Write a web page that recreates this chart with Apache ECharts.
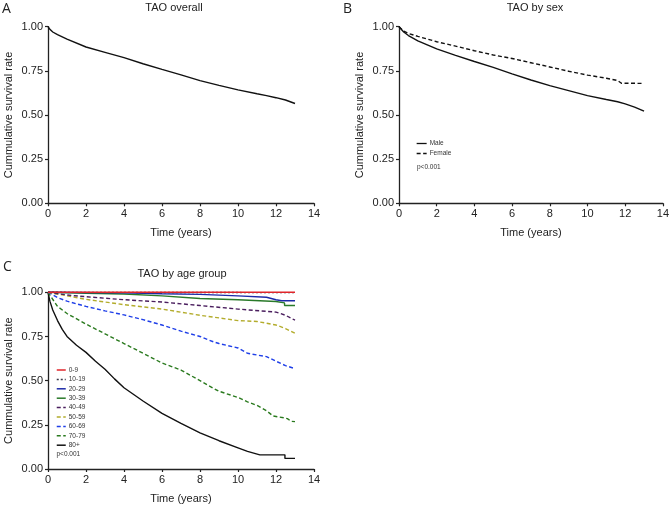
<!DOCTYPE html>
<html>
<head>
<meta charset="utf-8">
<script src="https://cdn.jsdelivr.net/npm/echarts@6/dist/echarts.min.js"></script>
<style>
html,body{margin:0;padding:0;background:#fff;}
#chart{width:672px;height:508px;}
</style>
</head>
<body>
<div id="chart"></div>
<script>
// ---- Data ----
const xTicks = [0, 2, 4, 6, 8, 10, 12, 14];
const yTicks = [0, 0.25, 0.5, 0.75, 1.0];

// Panel A: overall
const overallT = [0, 0.1, 0.25, 0.5, 1, 2, 3, 4, 5, 6, 7, 8, 9, 10, 11, 11.5, 12, 12.5, 13];
const overallS = [1.0, 0.985, 0.97, 0.955, 0.93, 0.885, 0.855, 0.825, 0.79, 0.758, 0.727, 0.695, 0.668, 0.642, 0.62, 0.61, 0.598, 0.585, 0.565];

// Panel B: by sex
const sexNames = ['Male', 'Female'];
const maleT = [0, 0.25, 0.5, 1, 1.5, 2, 3, 4, 5, 6, 7, 8, 9, 10, 11, 11.6, 12, 12.5, 13];
const maleS = [1.0, 0.97, 0.95, 0.92, 0.897, 0.874, 0.838, 0.803, 0.77, 0.733, 0.698, 0.666, 0.638, 0.61, 0.588, 0.575, 0.563, 0.545, 0.522];
const femaleT = [0, 0.25, 0.5, 1, 2, 3, 4, 5, 6, 7, 8, 9, 10, 11, 11.6, 11.8, 13];
const femaleS = [1.0, 0.975, 0.962, 0.945, 0.915, 0.89, 0.864, 0.84, 0.82, 0.796, 0.772, 0.748, 0.726, 0.708, 0.695, 0.68, 0.679];

// Panel C: by age group
const ageNames = ['0-9', '10-19', '20-29', '30-39', '40-49', '50-59', '60-69', '70-79', '80+'];
const ageT = [
  [0, 13],
  [0, 13],
  [0, 4, 6, 8, 10, 11.5, 12, 12.3, 13],
  [0, 2, 4, 6, 8, 10, 12, 12.45, 12.45, 13],
  [0, 1, 2, 4, 6, 8, 10, 12, 12.5, 13],
  [0, 1, 2, 4, 6, 8, 10, 11, 12, 12.5, 13],
  [0, 0.5, 1, 2, 3, 4, 5, 6, 7, 8, 8.7, 9, 10, 10.5, 11, 11.5, 12, 12.5, 13],
  [0, 0.5, 1, 2, 3, 4, 5, 6, 7, 8, 8.7, 9, 10, 10.5, 11, 11.5, 11.85, 12.4, 12.6, 12.8, 13],
  [0, 0.1, 0.25, 0.5, 0.75, 1, 1.5, 2, 2.5, 3, 3.5, 4, 5, 6, 7, 8, 9, 10, 10.5, 11.15, 12.47, 12.47, 13]
];
const ageS = [
  [1.0, 1.0],
  [1.0, 0.998],
  [1.0, 0.997, 0.992, 0.988, 0.98, 0.972, 0.958, 0.952, 0.952],
  [1.0, 0.995, 0.99, 0.98, 0.965, 0.958, 0.948, 0.94, 0.925, 0.925],
  [1.0, 0.985, 0.975, 0.958, 0.945, 0.925, 0.905, 0.888, 0.87, 0.842],
  [1.0, 0.98, 0.96, 0.93, 0.905, 0.87, 0.84, 0.835, 0.815, 0.795, 0.768],
  [1.0, 0.97, 0.95, 0.92, 0.895, 0.872, 0.845, 0.815, 0.78, 0.75, 0.72, 0.71, 0.685, 0.655, 0.645, 0.636, 0.61, 0.585, 0.568],
  [1.0, 0.92, 0.88, 0.82, 0.765, 0.71, 0.655, 0.6, 0.56, 0.5, 0.457, 0.44, 0.405, 0.38, 0.36, 0.33, 0.3, 0.29, 0.285, 0.27, 0.268],
  [1.0, 0.95, 0.9, 0.84, 0.79, 0.75, 0.70, 0.66, 0.61, 0.565, 0.51, 0.46, 0.385, 0.315, 0.258, 0.205, 0.16, 0.12, 0.1, 0.08, 0.08, 0.06, 0.06]
];

// ---- Styles ----
const ageColors = ['#e0262b', '#3a3a4a', '#1c2aa8', '#2a7a2a', '#4a1e5e', '#b3ac2c', '#1f3fe8', '#2a7a1e', '#111111'];
const ageDash = ['solid', [2, 2], 'solid', 'solid', [4, 2.5], [4, 2.5], [4, 2.5], [4, 2.5], 'solid'];
const FONT = '"Liberation Sans", Arial, sans-serif';

function zip(t, s) { return t.map((v, i) => [v, s[i]]); }

function xAxisCfg(gi) {
  return {
    type: 'value', gridIndex: gi, min: 0, max: 14, interval: 2,
    name: 'Time (years)', nameLocation: 'middle', nameGap: 24,
    nameTextStyle: { fontFamily: FONT, fontSize: 11, color: '#222' },
    axisLine: { lineStyle: { color: '#222', width: 1.3 } },
    axisTick: { show: true, length: 3, lineStyle: { color: '#222', width: 1.2 } },
    axisLabel: { fontFamily: FONT, fontSize: 11, color: '#222', margin: 5,
      formatter: v => xTicks.includes(v) ? String(v) : '' },
    splitLine: { show: false }
  };
}
function yAxisCfg(gi) {
  return {
    type: 'value', gridIndex: gi, min: 0, max: 1, interval: 0.25,
    name: 'Cummulative survival rate', nameLocation: 'middle', nameGap: 34,
    nameTextStyle: { fontFamily: FONT, fontSize: 11, color: '#222' },
    axisLine: { show: true, lineStyle: { color: '#222', width: 1.3 } },
    axisTick: { show: true, length: 3, lineStyle: { color: '#222', width: 1.2 } },
    axisLabel: { fontFamily: FONT, fontSize: 11, color: '#222', margin: 5,
      formatter: v => yTicks.includes(v) ? v.toFixed(2) : '' },
    splitLine: { show: false }
  };
}

const series = [];
series.push({
  type: 'line', name: 'Overall', xAxisIndex: 0, yAxisIndex: 0,
  data: zip(overallT, overallS), showSymbol: false, symbol: 'none', symbolSize: 0, clip: false,
  lineStyle: { color: '#111', width: 1.4 }, itemStyle: { color: '#111' }
});
[[maleT, maleS, 'solid'], [femaleT, femaleS, [4, 2.5]]].forEach((d, i) => {
  series.push({
    type: 'line', name: sexNames[i], xAxisIndex: 1, yAxisIndex: 1,
    data: zip(d[0], d[1]), showSymbol: false, symbol: 'none', symbolSize: 0, clip: false,
    lineStyle: { color: '#111', width: 1.4, type: d[2] }, itemStyle: { color: '#111' }
  });
});
ageNames.forEach((n, i) => {
  series.push({
    type: 'line', name: n, xAxisIndex: 2, yAxisIndex: 2,
    data: zip(ageT[i], ageS[i]), showSymbol: false, symbol: 'none', symbolSize: 0, clip: false,
    z: 2 + (ageNames.length - i),
    lineStyle: { color: ageColors[i], width: 1.4, type: ageDash[i] }, itemStyle: { color: ageColors[i] }
  });
});

const legendText = { fontFamily: FONT, fontSize: 6.5, color: '#333', padding: [0, 0, 0, -2] };
const option = {
  animation: false,
  backgroundColor: '#fff',
  grid: [
    { left: 48, top: 26.7, width: 266, height: 176.6 },
    { left: 399, top: 26.7, width: 268, height: 176.6 },
    { left: 48, top: 292.3, width: 266, height: 176.7 }
  ],
  xAxis: [xAxisCfg(0), xAxisCfg(1), xAxisCfg(2)],
  yAxis: [yAxisCfg(0), yAxisCfg(1), yAxisCfg(2)],
  legend: [
    { data: sexNames, orient: 'vertical', left: 416, top: 140, itemWidth: 10, itemHeight: 8, itemGap: 3,
      itemStyle: { opacity: 0, borderWidth: 0 }, lineStyle: { width: 1.3 },
      textStyle: legendText, padding: 0, selectedMode: false },
    { data: ageNames, orient: 'vertical', left: 56, top: 366.5, itemWidth: 9, itemHeight: 7, itemGap: 2.4,
      itemStyle: { opacity: 0, borderWidth: 0 }, lineStyle: { width: 1.5 },
      textStyle: legendText, padding: 0, selectedMode: false }
  ],
  graphic: [
    { type: 'text', x: 174, y: 7.5, style: { text: 'TAO overall', font: '11px ' + FONT, fill: '#222', align: 'center', verticalAlign: 'middle' } },
    { type: 'text', x: 535, y: 7.5, style: { text: 'TAO by sex', font: '11px ' + FONT, fill: '#222', align: 'center', verticalAlign: 'middle' } },
    { type: 'text', x: 182, y: 274, style: { text: 'TAO by age group', font: '11px ' + FONT, fill: '#222', align: 'center', verticalAlign: 'middle' } },
    { type: 'text', x: 2, y: 9, style: { text: 'A', font: '14px "Open Sans", sans-serif', fill: '#222', align: 'left', verticalAlign: 'middle' } },
    { type: 'text', x: 343, y: 9, style: { text: 'B', font: '14px "Open Sans", sans-serif', fill: '#222', align: 'left', verticalAlign: 'middle' } },
    { type: 'text', x: 3, y: 267, style: { text: 'C', font: '14px "Open Sans", sans-serif', fill: '#222', align: 'left', verticalAlign: 'middle' } },
    { type: 'text', x: 417, y: 167, style: { text: 'p<0.001', font: '6.5px ' + FONT, fill: '#333', align: 'left', verticalAlign: 'middle' } },
    { type: 'text', x: 56.5, y: 454, style: { text: 'p<0.001', font: '6.5px ' + FONT, fill: '#333', align: 'left', verticalAlign: 'middle' } }
  ],
  series: series
};

const chart = echarts.init(document.getElementById('chart'), null, { renderer: 'canvas' });
chart.setOption(option);
</script>
</body>
</html>
